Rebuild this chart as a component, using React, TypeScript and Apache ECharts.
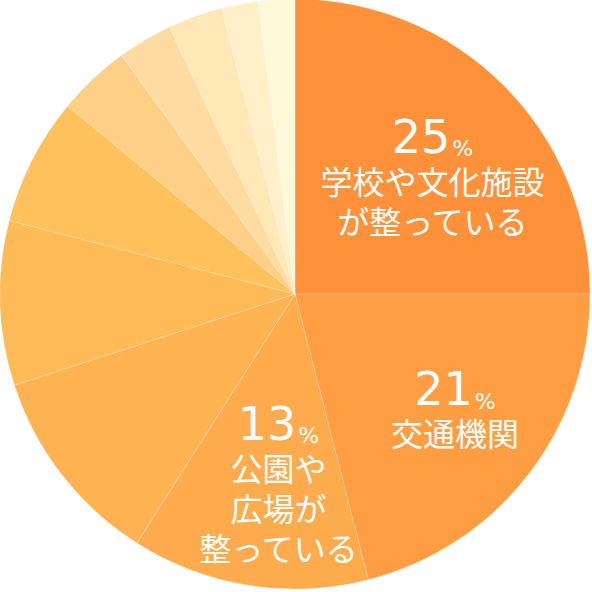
import React, { useEffect, useRef } from 'react';
import * as echarts from 'echarts';

// 各項目の割合(%)、12時の位置から時計回り
const shares = [25, 21, 13, 11, 9, 7, 4, 3, 3, 2, 2];
const labels = [
  '学校や文化施設\nが整っている',
  '交通機関',
  '公園や\n広場が\n整っている',
  '', '', '', '', '', '', '', ''
];
const sliceColors = [
  '#FF913A', '#FF9D42', '#FEAB4D', '#FEB352', '#FEBA56', '#FEC15C',
  '#FECF86', '#FEDCA1', '#FFE7B6', '#FFF0C9', '#FFF8D9'
];

// ラベルの位置調整 (inside の既定位置からのずれ)
const labelShift: Array<[number, number]> = [[31, -14], [41, 20], [7, 38]];

const App: React.FC = () => {
  const chartRef = useRef<HTMLDivElement>(null);

  useEffect(() => {
    document.body.style.margin = '0';
    if (!chartRef.current) return;
    const chart = echarts.init(chartRef.current, undefined, { renderer: 'svg' });

    const option = {
      animation: false,
      series: [{
        type: 'pie',
        center: [295, 294],
        radius: [0, 295],
        startAngle: 90,
        clockwise: true,
        silent: true,
        itemStyle: {
          borderColor: 'rgba(255,255,255,0.35)',
          borderWidth: 0.6
        },
        label: {
          position: 'inside',
          color: '#fff',
          formatter: (p: any) => {
            if (!p.name) return '';
            const lines = p.name.split('\n').map((l: string) => `{txt|${l}}`).join('\n');
            return `{num|${p.value}}{pct|%}\n${lines}`;
          },
          rich: {
            num: {
              fontFamily: 'DejaVu Sans',
              fontSize: 46,
              lineHeight: 52,
              color: '#fff',
              verticalAlign: 'bottom'
            },
            pct: {
              fontFamily: 'DejaVu Sans',
              fontSize: 22,
              lineHeight: 52,
              color: '#fff',
              verticalAlign: 'bottom',
              padding: [0, 0, 0, 2]
            },
            txt: {
              fontFamily: 'Noto Sans CJK JP',
              fontSize: 32,
              lineHeight: 40,
              color: '#fff'
            }
          }
        },
        labelLine: { show: false },
        labelLayout: (params: any) => {
          const s = labelShift[params.dataIndex];
          return s ? { dx: s[0], dy: s[1] } : {};
        },
        data: shares.map((v, i) => ({
          value: v,
          name: labels[i],
          itemStyle: { color: sliceColors[i] },
          label: { show: !!labels[i] }
        }))
      }]
    };

    chart.setOption(option);
    return () => {
      chart.dispose();
    };
  }, []);

  return <div ref={chartRef} style={{ width: 592, height: 592 }} />;
};

export default App;
